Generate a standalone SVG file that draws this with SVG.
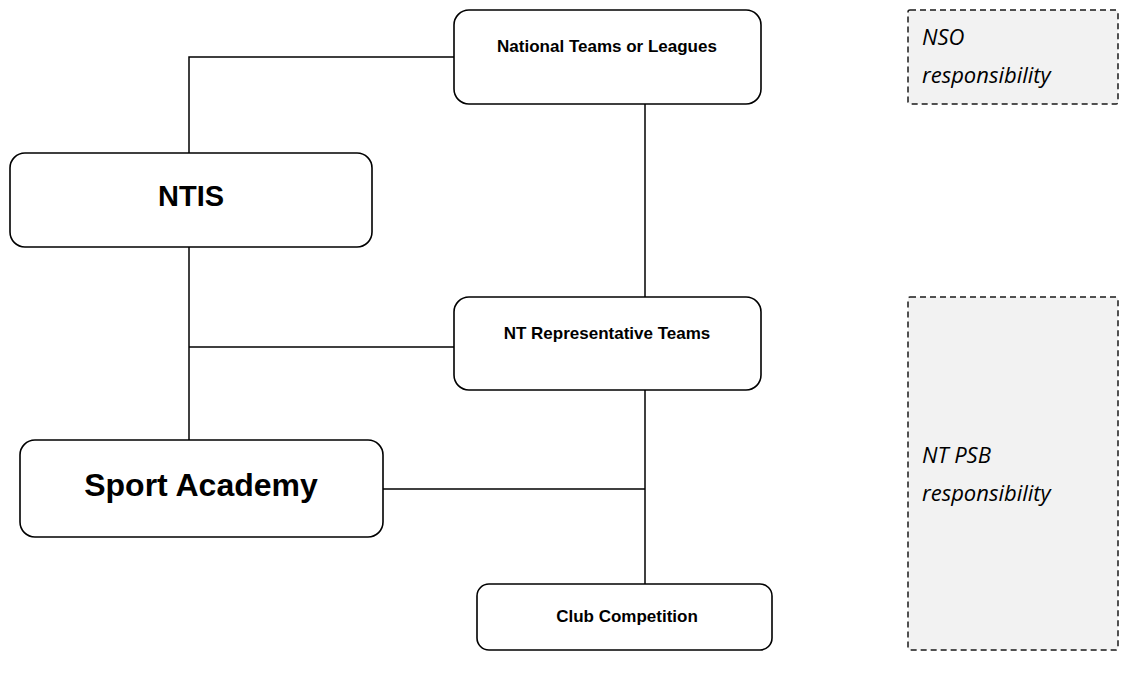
<svg xmlns="http://www.w3.org/2000/svg" width="1126" height="682" viewBox="0 0 1126 682">
<style>
.box{fill:#ffffff;stroke:#000000;stroke-width:1.6}
.resp{fill:#f2f2f2;stroke:#1a1a1a;stroke-width:1.5;stroke-dasharray:6 4}
.conn{fill:none;stroke:#000000;stroke-width:1.5}
.t{font-family:"Liberation Sans",Arial,sans-serif;font-weight:bold;fill:#000000;text-anchor:middle}
.i{font-family:"Open Sans","Liberation Sans",sans-serif;font-style:italic;font-size:22px;fill:#000000}
</style>
<rect width="1126" height="682" fill="#ffffff"/>
<g id="connectors">
<polyline class="conn" points="189,153 189,57 454,57"/>
<line class="conn" x1="645" y1="104" x2="645" y2="297"/>
<line class="conn" x1="189" y1="247" x2="189" y2="440"/>
<line class="conn" x1="189" y1="347" x2="454" y2="347"/>
<line class="conn" x1="645" y1="390" x2="645" y2="584"/>
<line class="conn" x1="383" y1="489" x2="645" y2="489"/>
</g>
<g id="national-teams">
<rect class="box" x="454" y="10" width="307" height="94" rx="15"/>
<text class="t" x="607" y="52" font-size="17">National Teams or Leagues</text>
</g>
<g id="nso-responsibility">
<rect class="resp" x="908" y="10" width="210" height="94" rx="2"/>
<text class="i" x="922" y="45">NSO</text>
<text class="i" x="922" y="83">responsibility</text>
</g>
<g id="ntis">
<rect class="box" x="10" y="153" width="362" height="94" rx="15"/>
<text class="t" x="191" y="206" font-size="29">NTIS</text>
</g>
<g id="nt-representative-teams">
<rect class="box" x="454" y="297" width="307" height="93" rx="15"/>
<text class="t" x="607" y="339" font-size="17">NT Representative Teams</text>
</g>
<g id="nt-psb-responsibility">
<rect class="resp" x="908" y="297" width="210" height="353" rx="2"/>
<text class="i" x="922" y="463">NT PSB</text>
<text class="i" x="922" y="501">responsibility</text>
</g>
<g id="sport-academy">
<rect class="box" x="20" y="440" width="363" height="97" rx="15"/>
<text class="t" x="201" y="496" font-size="32">Sport Academy</text>
</g>
<g id="club-competition">
<rect class="box" x="477" y="584" width="295" height="66" rx="12"/>
<text class="t" x="627" y="622" font-size="17">Club Competition</text>
</g>
</svg>
